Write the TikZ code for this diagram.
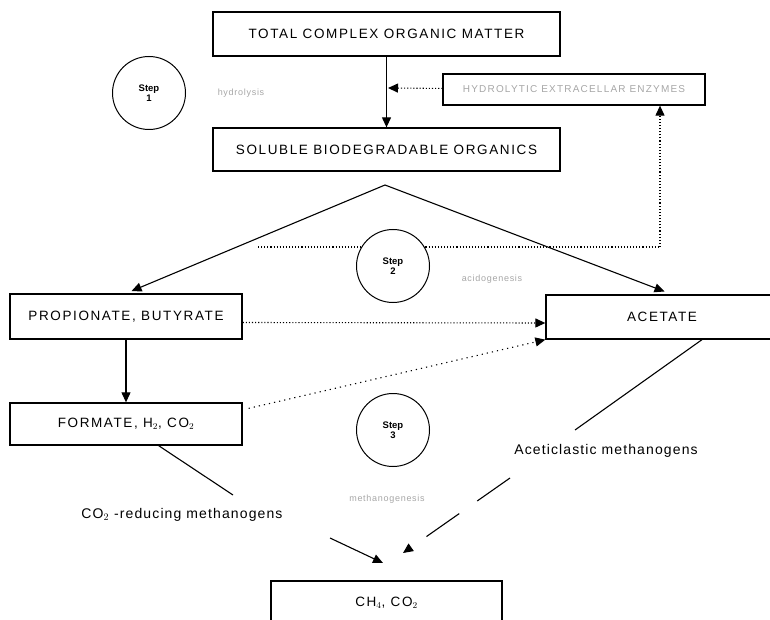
\documentclass[tikz,border=0pt]{standalone}
\usepackage{fontspec}
\setmainfont{Liberation Sans}
\newfontfamily\boxfont[LetterSpace=12]{Liberation Sans}
\newfontfamily\labfont[LetterSpace=8]{Liberation Sans}
\usetikzlibrary{arrows.meta}

\tikzset{
  box/.style={draw, line width=1.3pt, inner sep=0pt, minimum height=44pt,
    font=\boxfont\fontsize{13.5}{15}\selectfont},
  stepcirc/.style={draw, circle, line width=1pt, fill=white, minimum size=73pt,
    inner sep=0pt, align=center, font=\bfseries\fontsize{9.5}{10}\selectfont},
  phase/.style={text=gray!70, font=\labfont\fontsize{9}{10}\selectfont},
  methlab/.style={font=\labfont\fontsize{14}{16}\selectfont},
  arr/.style={-{Triangle[length=10pt,width=9pt]}, line width=1.1pt},
  dotarr/.style={-{Triangle[length=10pt,width=9pt]}, line width=1.1pt, dotted}
}

\begin{document}
\begin{tikzpicture}[x=1pt,y=-1pt]
\useasboundingbox (0,0) rectangle (770,620);
\clip (0,0) rectangle (770,620);

% boxes
\node[box, minimum width=347pt] (total) at (386.5,34) {TOTAL COMPLEX ORGANIC MATTER};
\node[box, minimum width=347pt, minimum height=43pt] (soluble) at (386.5,149.5) {SOLUBLE BIODEGRADABLE ORGANICS};
\node[box, minimum width=262pt, minimum height=31pt, text=gray!70,
  font=\boxfont\fontsize{10}{11}\selectfont] (hydro) at (574,89.5) {HYDROLYTIC EXTRACELLAR ENZYMES};
\node[box, minimum width=232pt, minimum height=45pt] (prop) at (126,316.5) {PROPIONATE, BUTYRATE};
\node[box, minimum width=232pt] (acet) at (662,317) {ACETATE};
\node[box, minimum width=232pt, minimum height=42pt] (form) at (126,424) {FORMATE, H$_2$, CO$_2$};
\node[box, minimum width=231pt] (ch4) at (386.5,603) {CH$_4$, CO$_2$};

% step 1
\draw[arr] (total) -- (soluble);
\coordinate (hmeet) at (388,88);
\draw[dotarr] (hydro) -- (hmeet);
\node[stepcirc] (s1) at (149,93) {Step\\1};
\node[phase] (hyd) at (241,93) {hydrolysis};

% step 2
\coordinate (apex) at (385,185);
\draw[arr, shorten >=6pt] (apex) -- (prop.north);
\draw[arr, shorten >=8pt] (apex) -- ([xshift=10pt]acet.north);
\coordinate (fbstart) at (258,247);
\coordinate (fb) at (660,247);
\draw[dotted, line width=1.1pt] (fbstart) -- (fb);
\draw[dotarr] (fb) -- (hydro.south -| fb);
\node[stepcirc] (s2) at (393,266) {Step\\2};
\node[phase] (acid) at (492,279) {acidogenesis};
\draw[dotarr] ([yshift=-6pt]prop.east) -- ([yshift=-6pt]acet.west);
\draw[arr] (prop) -- (form);
\draw[-{Triangle[length=10pt,width=9pt]}, line width=1.1pt, dash pattern=on 1.2pt off 4pt]
  ([xshift=6pt,yshift=-6pt]form.north east) -- (acet.south west);

% step 3
\node[stepcirc] (s3) at (393,430) {Step\\3};
\node[phase] (meth) at (387,499) {methanogenesis};
\coordinate (co2end) at (233,495);
\draw[line width=1.1pt] (form) -- (co2end);
\node[methlab] (co2lab) at (182,515) {CO$_2$ -reducing methanogens};
\coordinate (co2arr) at (330,538);
\coordinate (co2tip) at (383,563);
\draw[arr] (co2arr) -- (co2tip);
\coordinate (acend) at (575,430);
\draw[line width=1.1pt] ([xshift=40pt]acet.south) -- (acend);
\node[methlab] (aclab) at (606,451) {Aceticlastic methanogens};
\coordinate (acarr) at (510,478);
\coordinate (actip) at (403,553);
\draw[arr, dash pattern=on 40pt off 22pt] (acarr) -- (actip);
\end{tikzpicture}
\end{document}
